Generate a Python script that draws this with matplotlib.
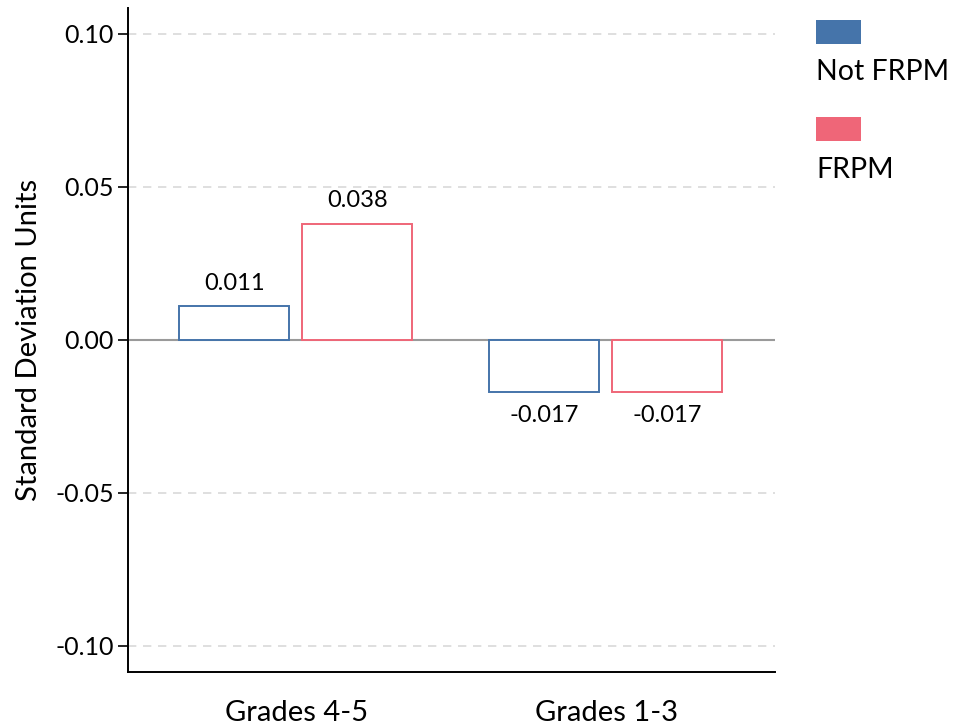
import matplotlib.pyplot as plt
import numpy as np

plt.rcParams["font.family"] = ["Lato", "DejaVu Sans"]

categories = ["Grades 4-5", "Grades 1-3"]
series_names = ["Not FRPM", "FRPM"]
not_frpm = [0.011, -0.017]
frpm = [0.038, -0.017]
value_labels = [["0.011", "-0.017"], ["0.038", "-0.017"]]
yticks = [-0.10, -0.05, 0.00, 0.05, 0.10]
ytick_labels = ["-0.10", "-0.05", "0.00", "0.05", "0.10"]

colors = ["#4574aa", "#ef6678"]


def main() -> None:
    fig = plt.figure(figsize=(9.56, 7.25), dpi=100)
    ax = fig.add_axes([0.1339, 0.0731, 0.677, 0.9159])

    x = np.arange(len(categories))
    width = 0.355
    offsets = [-0.2, 0.197]

    for i, (vals, color) in enumerate(zip([not_frpm, frpm], colors)):
        ax.bar(x + offsets[i], vals, width, facecolor="white", edgecolor=color,
               linewidth=1.4, zorder=3)
        for xi, v, lab in zip(x + offsets[i], vals, value_labels[i]):
            if v >= 0:
                ax.annotate(lab, (xi, v), xytext=(0, 9), textcoords="offset points",
                            ha="center", va="bottom", fontsize=17)
            else:
                ax.annotate(lab, (xi, v), xytext=(0, -9), textcoords="offset points",
                            ha="center", va="top", fontsize=17)

    ax.axhline(0, color="#9a9a9a", linewidth=1.5, zorder=2)
    for t in [-0.10, -0.05, 0.05, 0.10]:
        ax.axhline(t, color="#d9d9d9", linewidth=1.2, linestyle=(0, (5, 4)), zorder=1)

    ax.set_xlim(-0.542, 1.545)
    ax.set_ylim(-0.1085, 0.1085)
    ax.set_yticks(yticks)
    ax.set_yticklabels(ytick_labels, fontsize=18)
    ax.set_xticks(x)
    ax.set_xticklabels(categories, fontsize=21)
    ax.tick_params(axis="x", length=0, pad=20)
    ax.tick_params(axis="y", length=7, width=1.2, direction="out", pad=3)
    ax.set_ylabel("Standard Deviation Units", fontsize=21, labelpad=10)

    for side in ["top", "right"]:
        ax.spines[side].set_visible(False)
    for side in ["left", "bottom"]:
        ax.spines[side].set_linewidth(1.4)

    # legend drawn as figure patches and text, stacked swatch above label
    swatch_y = [0.939, 0.805]
    text_y = [0.918, 0.784]
    for name, color, sy, ty in zip(series_names, colors, swatch_y, text_y):
        fig.patches.append(plt.Rectangle((0.8535, sy), 0.047, 0.034, facecolor=color,
                                         edgecolor="none", transform=fig.transFigure,
                                         figure=fig))
        fig.text(0.8535, ty, name, fontsize=20.5, ha="left", va="top")

    fig.savefig("out.png", dpi=100)
    plt.close(fig)


if __name__ == "__main__":
    main()
